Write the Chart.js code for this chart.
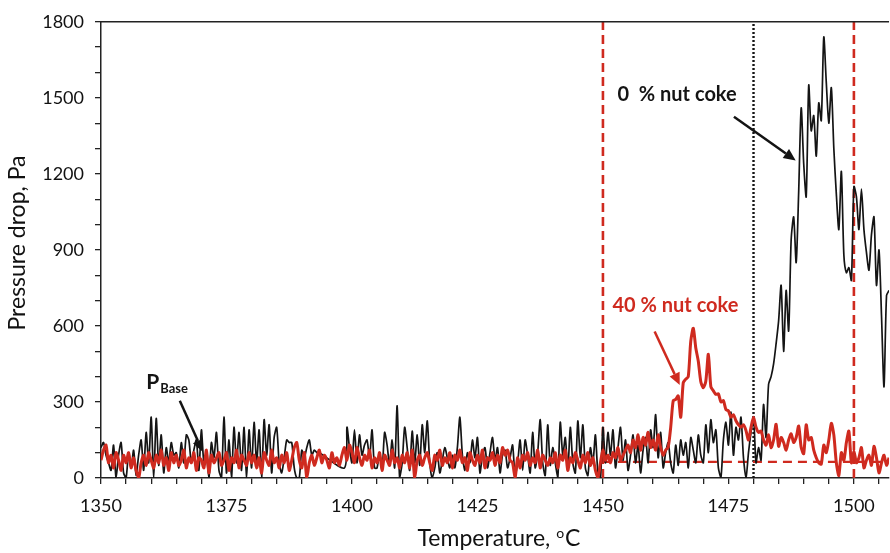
<!DOCTYPE html>
<html>
<head>
<meta charset="utf-8">
<script src="https://cdn.jsdelivr.net/npm/chart.js@4.4.1/dist/chart.umd.min.js"></script>
<style>
  html, body { margin: 0; padding: 0; background: #ffffff; }
</style>
</head>
<body>
<canvas id="chart" width="890" height="553"></canvas>
<script>
// pressure drop vs temperature - two runs (0 % and 40 % nut coke)

// colors
const COLOR_BLACK = '#141414';
const COLOR_RED = '#cf2a1f';
const COLOR_AXIS = '#222222';
const FONT_NAME = 'Lato, "Open Sans", sans-serif';

// temperature grid of the readings
const TEMP_START = 1350;
const TEMP_STEP = 0.5;

// pressure drop (Pa) for 0 % nut coke, one row = 5 degrees
// (null = no reading, the line just bridges the gap)
const pressureNoCoke = [
    120, 140, 90, 60, 30, 130, 0, 90, 140, 20,
    0, 100, 40, 110, 10, 90, 150, 30, 180, 60,
    240, 0, 235, 50, 170, 20, 120, 60, 140, 90,
    100, 40, 140, 60, 170, 150, 60, 110, 150, 30,
    190, 60, 90, 0, 140, 80, 180, 30, 0, 240,
    20, 150, 0, 200, 60, 180, 30, 200, 0, 190,
    40, 220, 60, 190, 0, 230, 90, 210, 20, 160,
    200, 60, 20, 80, 150, 140, 140, 40, 0, 0,
    110, 80, 120, 150, 90, 110, 100, 100, null, null,
    null, null, null, null, null, null, null, 40, 200, 120,
    60, 190, 60, 170, 90, 130, 150, 80, 190, 40,
    40, 100, 30, 180, 130, 50, 150, 40, 285, 0,
    60, 200, 120, 30, 185, 60, 170, 50, 210, 100,
    225, 60, 0, 40, 100, 20, 70, 120, 80, 40,
    90, 40, 120, 240, 90, 30, 100, 60, 150, 80,
    160, 20, 90, 120, 40, 100, 160, 70, 120, 20,
    90, 110, 40, 80, 130, 10, 60, 150, 30, 150,
    90, 20, 180, 40, 100, 230, 60, 10, 210, 50,
    120, 60, 0, 220, 90, 160, 30, 200, 60, 20,
    225, 80, 210, 40, 10, 120, 60, 170, 20, 0,
    200, 60, 180, 90, 190, 40, 120, 200, 70, 150,
    30, 90, 170, 60, 130, 20, 110, 160, 60, 190,
    120, 250, 80, 180, 40, 100, 140, 60, 20, 130,
    50, 150, 90, 140, 40, 160, 110, 60, 170, 90,
    60, 210, 100, 230, 140, 190, 40, 0, 150, 220,
    130, 260, 90, 200, 150, 240, 80, 0, 100, 180,
    240, 60, 120, 70, 290, 160, 370, 400, 450, 530,
    620, 760, 500, 740, 580, 940, 1030, 850, 1130, 1460,
    1240, 1110, 1550, 1370, 1430, 1270, 1480, 1410, 1740, 1560,
    1400, 1540, 1300, 1120, 980, 1210, 880, 810, 830, 780,
    1150, 1110, 980, 1140, 980, 890, 820, 960, 1030, 760,
    900, 640, 360, 720, 740
];

// pressure drop (Pa) for 40 % nut coke
const pressureNutCoke = [
    70, 110, 130, 60, 90, 40, 100, 70, 30, 90,
    60, 100, 40, 80, 30, 0, 60, 90, 50, 100,
    70, 40, 90, 60, 110, 50, 80, 30, 100, 60,
    90, 50, 70, 110, 40, 80, 60, 100, 30, 80,
    70, 40, 110, 20, 90, 60, 80, 100, 50, 70,
    100, 30, 80, 60, 110, 40, 90, 70, 50, 100,
    60, 90, 40, 80, 20, 100, 70, 50, 110, 60,
    80, 40, 90, 60, 100, 30, 70, 120, 140, 70,
    40, 100, 0, 60, 90, 50, 80, 110, 60, 90,
    70, 40, 100, 60, 80, 50, 90, 120, 70, 130,
    100, 60, 120, 80, 50, 90, 70, 110, 40, 80,
    60, 100, 30, 90, 70, 50, 110, 60, 80, 40,
    90, 60, 100, 40, 110, 0, 70, 90, 50, 80,
    100, 60, 30, 90, 70, 110, 50, 80, 60, 100,
    40, 90, 70, 110, 60, 80, 30, 100, 70, 50,
    90, 60, 110, 40, 80, 70, 100, 50, 90, 60,
    120, 90, 110, 70, 60, 0, 80, 40, 90, 70,
    100, 50, 80, 60, 110, 40, 90, 70, 50, 80,
    60, 100, 40, 90, 70, 110, 30, 80, 60, 100,
    70, 40, 90, 60, 100, 50, 80, 30, 0, 60,
    110, 70, 90, 60, 100, 80, 120, 70, 90, 110,
    130, 100, 150, 120, 170, 110, 160, 130, 180, 120,
    150, 110, 170, 120, 90, 110, 122, 200, 305, 310,
    324, 240, 376, 390, 400, 540, 591, 513, 461, 380,
    356, 383, 488, 360, 344, 330, 332, 300, 305, 270,
    265, 240, 250, 226, 210, 200, 210, 187, 150, 200,
    240, 200, 180, 185, 150, 130, 170, 120, 150, 212,
    125, 160, 140, 110, 150, 174, 140, 160, 205, 120,
    96, 210, 150, 160, 110, 80, 60, 55, 130, 100,
    150, 216, 170, 60, 10, 100, 70, 140, 185, 60,
    107, 60, 80, 120, 40, 70, 90, 50, 125, 80,
    20, 60, 90, 50, 80
];

// reference lines
const windowTemps = [1450, 1500];     // red dashed verticals
const onsetTemp = 1480;               // black dotted vertical
const baseLevel = 64;                 // red dashed P base level
const baseFrom = 1450;

// axis limits
const X_MIN = 1350, X_MAX = 1507;
const Y_MIN = 0, Y_MAX = 1800;


// pairs the readings with their temperature
function toPoints(values) {
    const pts = [];
    for (let i = 0; i < values.length; i++) {
        pts.push({ x: TEMP_START + i * TEMP_STEP, y: values[i] });
    }
    return pts;
}

// draws a line with a filled arrow head at the end
function drawArrow(ctx, x1, y1, x2, y2, color, width) {
    const angle = Math.atan2(y2 - y1, x2 - x1);
    const headLen = 12, headW = 5.5;
    const bx = x2 - headLen * Math.cos(angle);
    const by = y2 - headLen * Math.sin(angle);
    ctx.strokeStyle = color;
    ctx.fillStyle = color;
    ctx.lineWidth = width;
    ctx.beginPath();
    ctx.moveTo(x1, y1);
    ctx.lineTo(bx, by);
    ctx.stroke();
    ctx.beginPath();
    ctx.moveTo(x2, y2);
    ctx.lineTo(bx + headW * Math.sin(angle), by - headW * Math.cos(angle));
    ctx.lineTo(bx - headW * Math.sin(angle), by + headW * Math.cos(angle));
    ctx.closePath();
    ctx.fill();
}

// labels, arrows, axis titles and the top frame line
const extrasPlugin = {
    id: 'extras',
    afterDraw(chart) {
        const ctx = chart.ctx;
        const xs = chart.scales.x;
        const ys = chart.scales.y;
        const area = chart.chartArea;
        const px = function(t) { return xs.getPixelForValue(t); };
        const py = function(v) { return ys.getPixelForValue(v); };

        ctx.save();

        // top frame
        ctx.strokeStyle = COLOR_AXIS;
        ctx.lineWidth = 1.5;
        ctx.beginPath();
        ctx.moveTo(area.left, area.top);
        ctx.lineTo(area.right, area.top);
        ctx.stroke();

        // text labels
        ctx.textBaseline = 'alphabetic';
        ctx.textAlign = 'left';
        ctx.font = 'bold 20px ' + FONT_NAME;
        ctx.fillStyle = COLOR_BLACK;
        ctx.fillText('0  % nut coke', px(1452.9), py(1488));
        ctx.fillStyle = COLOR_RED;
        ctx.fillText('40 % nut coke', px(1451.9), py(656));

        // P base label with subscript
        ctx.fillStyle = COLOR_BLACK;
        ctx.font = 'bold 21px ' + FONT_NAME;
        const pX = px(1359.0), pY = py(350);
        ctx.fillText('P', pX, pY);
        const pW = ctx.measureText('P').width;
        ctx.font = 'bold 13px ' + FONT_NAME;
        ctx.fillText('Base', pX + pW + 1, pY + 4);

        // arrows
        drawArrow(ctx, px(1476.1), py(1425), px(1488.4), py(1253), COLOR_BLACK, 2.5);
        drawArrow(ctx, px(1460.3), py(578), px(1465.3), py(367), COLOR_RED, 2.5);
        drawArrow(ctx, px(1365.7), py(305), px(1370.3), py(103), COLOR_BLACK, 2.5);

        // y axis title
        ctx.fillStyle = '#111111';
        ctx.font = '23px ' + FONT_NAME;
        ctx.save();
        ctx.translate(18, 243);
        ctx.rotate(-Math.PI / 2);
        ctx.textAlign = 'center';
        ctx.textBaseline = 'middle';
        ctx.fillText('Pressure drop, Pa', 0, 0);
        ctx.restore();

        // x axis title with a raised small o
        const part1 = 'Temperature, ';
        ctx.font = '23px ' + FONT_NAME;
        const w1 = ctx.measureText(part1).width;
        const wC = ctx.measureText('C').width;
        ctx.font = '14px ' + FONT_NAME;
        const wO = ctx.measureText('o').width;
        const total = w1 + wO + 1 + wC;
        let tx = 499 - total / 2;
        const base = 546;
        ctx.textAlign = 'left';
        ctx.textBaseline = 'alphabetic';
        ctx.font = '23px ' + FONT_NAME;
        ctx.fillText(part1, tx, base);
        tx += w1;
        ctx.font = '14px ' + FONT_NAME;
        ctx.fillText('o', tx, base - 8);
        tx += wO + 1;
        ctx.font = '23px ' + FONT_NAME;
        ctx.fillText('C', tx, base);

        ctx.restore();
    }
};


const lineBase = { pointRadius: 0, fill: false, tension: 0 };

const datasets = [
    Object.assign({}, lineBase, {
        label: '40 % nut coke',
        data: toPoints(pressureNutCoke),
        borderColor: COLOR_RED,
        borderWidth: 3,
        tension: 0.25,
        order: 1
    }),
    Object.assign({}, lineBase, {
        label: '0 % nut coke',
        data: toPoints(pressureNoCoke),
        borderColor: COLOR_BLACK,
        borderWidth: 1.7,
        tension: 0.25,
        spanGaps: true,
        order: 2
    }),
    Object.assign({}, lineBase, {
        label: 'P base',
        data: [{ x: baseFrom, y: baseLevel }, { x: X_MAX, y: baseLevel }],
        borderColor: COLOR_RED,
        borderWidth: 2.2,
        borderDash: [9, 6],
        order: 3
    }),
    Object.assign({}, lineBase, {
        label: 'onset',
        data: [{ x: onsetTemp, y: Y_MIN }, { x: onsetTemp, y: Y_MAX }],
        borderColor: COLOR_BLACK,
        borderWidth: 2.4,
        borderDash: [2, 2],
        order: 4
    })
];

for (let i = 0; i < windowTemps.length; i++) {
    datasets.push(Object.assign({}, lineBase, {
        label: 'window ' + i,
        data: [{ x: windowTemps[i], y: Y_MIN }, { x: windowTemps[i], y: Y_MAX }],
        borderColor: COLOR_RED,
        borderWidth: 2.6,
        borderDash: [9, 5],
        order: 5
    }));
}

const tickFont = { family: FONT_NAME, size: 18 };

new Chart(document.getElementById('chart').getContext('2d'), {
    type: 'line',
    data: { datasets: datasets },
    options: {
        responsive: false,
        devicePixelRatio: 1,
        animation: false,
        layout: { padding: { top: 17, right: 0, bottom: 0, left: 0 } },
        plugins: {
            legend: { display: false },
            tooltip: { enabled: false }
        },
        scales: {
            x: {
                type: 'linear',
                min: X_MIN,
                max: X_MAX,
                afterFit: function(scale) { scale.height = 75; },
                border: { display: true, color: COLOR_AXIS, width: 1.5 },
                grid: { drawOnChartArea: false, drawTicks: true, tickLength: 6, color: COLOR_AXIS, lineWidth: 1.3 },
                ticks: {
                    stepSize: 5,
                    autoSkip: false,
                    maxRotation: 0,
                    includeBounds: false,
                    padding: 11,
                    color: '#111111',
                    font: tickFont,
                    callback: function(v) { return v % 25 === 0 ? String(v) : ''; }
                }
            },
            y: {
                min: Y_MIN,
                max: Y_MAX,
                afterFit: function(scale) { scale.width = 101; },
                border: { display: true, color: COLOR_AXIS, width: 1.5 },
                grid: { drawOnChartArea: false, drawTicks: true, tickLength: 6, color: COLOR_AXIS, lineWidth: 1.3 },
                ticks: {
                    stepSize: 100,
                    autoSkip: false,
                    padding: 11,
                    color: '#111111',
                    font: tickFont,
                    callback: function(v) { return v % 300 === 0 ? String(v) : ''; }
                }
            }
        }
    },
    plugins: [extrasPlugin]
});
</script>
</body>
</html>
